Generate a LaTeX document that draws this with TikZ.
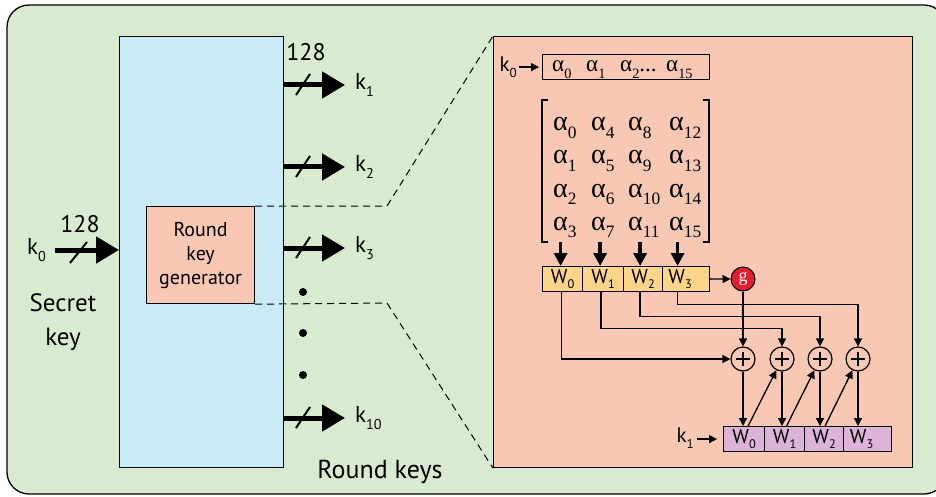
\documentclass[tikz,border=0pt]{standalone}
\usepackage{fontspec}
\setmainfont{PT Sans}
\newfontfamily\serifgr{Liberation Serif}
\usetikzlibrary{arrows.meta}

\definecolor{bggreen}{HTML}{D8EBD0}
\definecolor{keyblue}{HTML}{CBEAF7}
\definecolor{salmon}{HTML}{F9C8B4}
\definecolor{wyellow}{HTML}{FDD58A}
\definecolor{kpurple}{HTML}{DDB4D9}
\definecolor{gred}{HTML}{E31E2F}

% lowered subscript
\newcommand\lo[1]{\raisebox{-0.28em}{\scalebox{0.62}{#1}}}
\newcommand\al[1]{{\serifgr α\lo{#1}}}

\tikzset{
  keyarrow/.style={line width=5pt, -{Triangle[length=23pt,width=26pt]}},
  slashmark/.style={line width=2pt},
  sz/.style={font=\fontsize{#1}{#1}\selectfont},
  colarrow/.style={line width=3.5pt, -{Triangle[length=13pt,width=13pt]}},
  thinarrow/.style={line width=1.3pt, -{Triangle[length=8pt,width=8pt]}},
  zoomline/.style={line width=1pt, dash pattern=on 7pt off 5pt},
  wcell/.style={draw, line width=1.2pt, fill=wyellow, minimum height=25pt, inner sep=0pt, anchor=north west, sz=20},
  kcell/.style={draw, line width=1.2pt, fill=kpurple, minimum height=25pt, inner sep=0pt, anchor=north west, sz=20},
  xorbox/.style={circle, draw, line width=1.2pt, minimum size=24pt, inner sep=0pt,
    path picture={\draw[line width=1.2pt]
      ([xshift=-7pt]path picture bounding box.center) -- ([xshift=7pt]path picture bounding box.center)
      ([yshift=-7pt]path picture bounding box.center) -- ([yshift=7pt]path picture bounding box.center);}},
  alpha/.style={anchor=base west, inner sep=0pt, sz=#1},
}

\begin{document}
\begin{tikzpicture}[x=1pt,y=-1pt]
\useasboundingbox (0,0) rectangle (936,497);

% background panel
\draw[fill=bggreen, line width=1.3pt, rounded corners=22pt] (7,5) rectangle (946,494);

% key expansion block
\node[draw, line width=1.2pt, fill=keyblue, minimum width=164pt, minimum height=431pt, anchor=north west, inner sep=0pt] (exp) at (119,36) {};
\node[draw, line width=1.2pt, fill=salmon, minimum width=108pt, minimum height=97pt, anchor=north west, inner sep=0pt, align=center, font=\fontsize{20}{24}\selectfont] (rkg) at (146,206) {Round\\key\\generator};

% detail panel
\node[draw, line width=1.2pt, fill=salmon, minimum width=419pt, minimum height=431pt, anchor=north west, inner sep=0pt] (zoom) at (493,36) {};
\draw[zoomline] (rkg.north east) -- (387,206) -- (zoom.north west);
\draw[zoomline] (rkg.south east) -- (387,303) -- (zoom.south west);

% secret key input
\node[anchor=west, inner sep=0pt, sz=23] (k0) at (27,250) {k\lo{0}};
\coordinate (in0) at (55,250);
\draw[keyarrow] (in0) -- (in0 -| exp.west);
\draw[slashmark] (in0) ++(15,13) -- ++(17,-21);
\node[sz=24] (n128a) at (80,224) {128};
\node[align=center, font=\fontsize{25}{34}\selectfont] (secret) at (63,322) {Secret\\key};

% round key outputs
\foreach \n/\y/\lab in {o1/85/1, o2/167/2, o3/248/3, o10/418/10}{
  \coordinate (\n) at (283,\y);
  \node[anchor=west, inner sep=0pt, sz=23] (k\lab) at (355,\y) {k\lo{\lab}};
  \draw[keyarrow] (\n) -- (345,\y);
  \draw[slashmark] (\n) ++(13,10) -- ++(14,-21);
}
\node[sz=24] (n128b) at (306,52) {128};
\foreach \y [count=\i] in {292,333,375}
  \fill (303,\y) circle (4pt) coordinate (dot\i);
\node[sz=26] (rkeys) at (380,472) {Round keys};

% initial key words
\node[draw, line width=1.2pt, minimum width=167pt, minimum height=25pt, anchor=north west, inner sep=0pt] (kin) at (542,54) {};
\node[anchor=east, inner sep=0pt, sz=21] (k0b) at (517,67) {k\lo{0}};
\draw[thinarrow] (k0b.east |- kin.west) ++(2,0) -- ([xshift=-3pt]kin.west);
\node[alpha=23] (t0) at (552,72) {\al{0}};
\node[alpha=23] (t1) at (586,72) {\al{1}};
\node[alpha=23] (t2) at (620,72) {\al{2}\serifgr...};
\node[alpha=23] (t15) at (666,72) {\al{15}};

% state matrix
\coordinate (mtl) at (542,100);
\coordinate (mbr) at (709,242);
\draw[line width=1.2pt] ([xshift=6pt]mtl) -- (mtl) -- (mtl |- mbr) -- ++(6,0);
\draw[line width=1.2pt] ([xshift=-6pt]mtl -| mbr) -- (mtl -| mbr) -- (mbr) -- ++(-6,0);
\foreach \c/\x in {0/553,1/591,2/628,3/669}{
  \foreach \r/\y in {0/131,1/164,2/197,3/230}{
    \pgfmathtruncatemacro{\idx}{4*\c+\r}
    \node[alpha=28] (m\c\r) at (\x,\y) {\al{\idx}};
  }
}

% words w0..w3
\node[wcell, minimum width=40pt] (w0) at (542,266) {W\lo{0}};
\node[wcell, minimum width=41pt] (w1) at (582,266) {W\lo{1}};
\node[wcell, minimum width=39pt] (w2) at (623,266) {W\lo{2}};
\node[wcell, minimum width=47pt] (w3) at (662,266) {W\lo{3}\hspace*{12pt}};
\foreach \w/\s in {w0/-2,w1/-3,w2/-3,w3/-8.5}
  \draw[colarrow] ([xshift=\s pt]\w.north |- mbr) -- ([xshift=\s pt]\w.north);

% g function
\node[circle, draw, line width=1pt, fill=gred, minimum size=24pt, inner sep=0pt, text=white, font=\serifgr\fontsize{18}{18}\selectfont] (g) at (743,279) {g};
\draw[thinarrow] (w3.east) -- (g.west);

% xor gates
\node[xorbox] (x0) at (743,359) {};
\node[xorbox] (x1) at (782,359) {};
\node[xorbox] (x2) at (820,359) {};
\node[xorbox] (x3) at (858,359) {};

\draw[thinarrow] (g.south) -- (x0.north);
\draw[thinarrow] ([xshift=-1pt]w0.south) |- (x0.west);
\draw[thinarrow] ([xshift=-2pt]w1.south) -- ++(0,36) -| (x1.north);
\draw[thinarrow] ([xshift=-3pt]w2.south) -- ++(0,24) -| (x2.north);
\draw[thinarrow] ([xshift=-8.5pt]w3.south) -- ++(0,12) -| (x3.north);

% round key k1
\node[kcell, minimum width=41pt] (v0) at (723,426) {W\lo{0}};
\node[kcell, minimum width=40pt] (v1) at (764,426) {W\lo{1}};
\node[kcell, minimum width=39pt] (v2) at (804,426) {W\lo{2}};
\node[kcell, minimum width=48pt] (v3) at (843,426) {W\lo{3}\hspace*{12pt}};
\node[anchor=east, inner sep=0pt, sz=21] (k1b) at (694,438) {k\lo{1}};
\draw[thinarrow] (k1b.east |- v0.west) ++(3,0) -- ([xshift=-6pt]v0.west);

\foreach \x/\v in {x0/v0,x1/v1,x2/v2,x3/v3}
  \draw[thinarrow] (\x.south) -- (\x.south |- \v.north);
\draw[thinarrow] ([xshift=4pt]v0.north) -- (x1);
\draw[thinarrow] ([xshift=2pt]v1.north) -- (x2);
\draw[thinarrow] ([xshift=1pt]v2.north) -- (x3);
\end{tikzpicture}
\end{document}
